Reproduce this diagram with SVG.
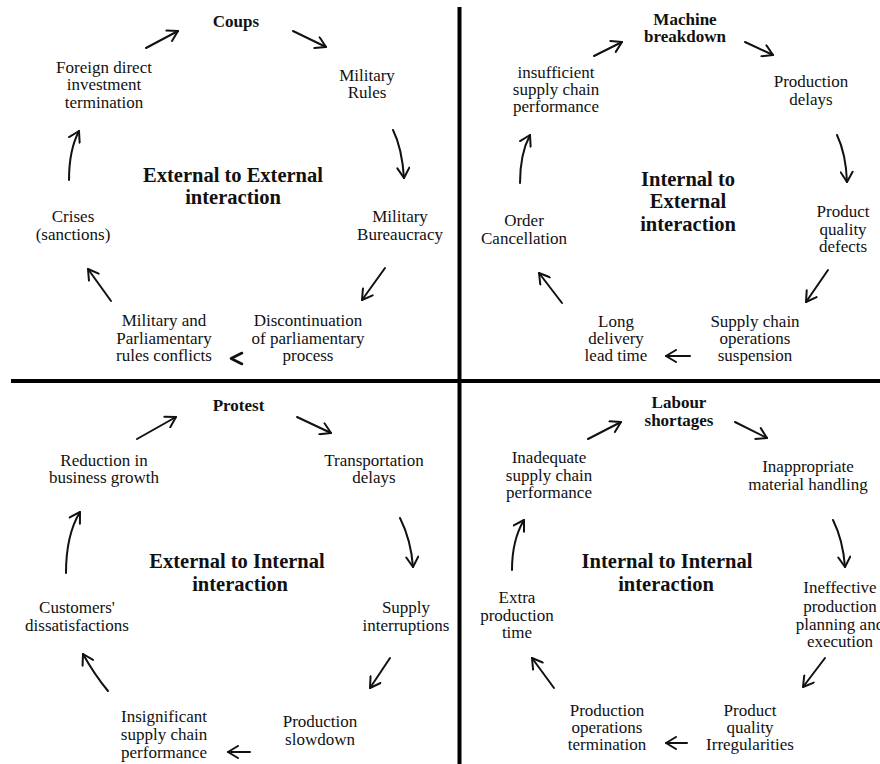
<svg xmlns="http://www.w3.org/2000/svg" width="880" height="764" viewBox="0 0 880 764">
<style>
text{font-family:'Liberation Serif','Times New Roman',Tinos,'Nimbus Roman','DejaVu Serif',serif;fill:#111;text-anchor:middle}
.n{font-size:17px}
.b{font-size:17px;font-weight:bold}
.t{font-size:20.5px;font-weight:bold}
.c path,.c polyline{fill:none;stroke:#111;stroke-width:2;stroke-linecap:round;stroke-linejoin:round}
.c .a{marker-end:url(#ah)}
.div{stroke:#000;stroke-width:4}
</style>
<defs>
<marker id="ah" markerUnits="userSpaceOnUse" viewBox="0 0 14 14" markerWidth="14" markerHeight="14" refX="12" refY="7" orient="auto">
<path d="M2,1 L12,7 L2,13" fill="none" stroke="#111" stroke-width="2" stroke-linecap="round" stroke-linejoin="round"/>
</marker>
</defs>
<rect width="880" height="764" fill="#fff"/>
<g id="dividers">
<line class="div" x1="459.5" y1="7" x2="459.5" y2="764"/>
<line class="div" x1="11" y1="381" x2="880" y2="381"/>
</g>
<g id="titles">
<text class="t" x="233" y="182">External to External</text>
<text class="t" x="233" y="204">interaction</text>
<text class="t" x="688" y="186">Internal to</text>
<text class="t" x="688" y="208">External</text>
<text class="t" x="688" y="231">interaction</text>
<text class="t" x="237" y="568">External to Internal</text>
<text class="t" x="240" y="591">interaction</text>
<text class="t" x="667" y="568">Internal to Internal</text>
<text class="t" x="666" y="591">interaction</text>
</g>
<g id="q1">
<g id="coups"><text class="b" x="236" y="27">Coups</text></g>
<g id="military-rules"><text class="n" x="367" y="81">Military</text><text class="n" x="367" y="98">Rules</text></g>
<g id="military-bureaucracy"><text class="n" x="400" y="222">Military</text><text class="n" x="400" y="240">Bureaucracy</text></g>
<g id="discontinuation"><text class="n" x="308" y="326">Discontinuation</text><text class="n" x="308" y="343.5">of parliamentary</text><text class="n" x="308" y="361">process</text></g>
<g id="military-parliamentary"><text class="n" x="164" y="326">Military and</text><text class="n" x="164" y="343.5">Parliamentary</text><text class="n" x="164" y="361">rules conflicts</text></g>
<g id="crises"><text class="n" x="73" y="222">Crises</text><text class="n" x="73" y="240">(sanctions)</text></g>
<g id="fdi"><text class="n" x="104" y="72.5">Foreign direct</text><text class="n" x="104" y="90">investment</text><text class="n" x="104" y="107.5">termination</text></g>
</g>
<g id="q2">
<g id="machine"><text class="b" x="685" y="25">Machine</text><text class="b" x="685" y="42">breakdown</text></g>
<g id="production-delays"><text class="n" x="811" y="87">Production</text><text class="n" x="811" y="105">delays</text></g>
<g id="quality-defects"><text class="n" x="843" y="217">Product</text><text class="n" x="843" y="234.5">quality</text><text class="n" x="843" y="252">defects</text></g>
<g id="sc-suspension"><text class="n" x="755" y="326.5">Supply chain</text><text class="n" x="755" y="344">operations</text><text class="n" x="755" y="361">suspension</text></g>
<g id="long-delivery"><text class="n" x="616" y="326.5">Long</text><text class="n" x="616" y="344">delivery</text><text class="n" x="616" y="361">lead time</text></g>
<g id="order-cancel"><text class="n" x="524" y="226">Order</text><text class="n" x="524" y="244">Cancellation</text></g>
<g id="insufficient"><text class="n" x="556" y="77.5">insufficient</text><text class="n" x="556" y="95">supply chain</text><text class="n" x="556" y="112">performance</text></g>
</g>
<g id="q3">
<g id="protest"><text class="b" x="238.5" y="411">Protest</text></g>
<g id="transportation"><text class="n" x="374" y="466">Transportation</text><text class="n" x="374" y="483">delays</text></g>
<g id="supply-int"><text class="n" x="406" y="613">Supply</text><text class="n" x="406" y="631">interruptions</text></g>
<g id="slowdown"><text class="n" x="320" y="727">Production</text><text class="n" x="320" y="744.5">slowdown</text></g>
<g id="insignificant"><text class="n" x="164" y="722">Insignificant</text><text class="n" x="164" y="740">supply chain</text><text class="n" x="164" y="757.5">performance</text></g>
<g id="customers"><text class="n" x="77" y="613">Customers'</text><text class="n" x="77" y="631">dissatisfactions</text></g>
<g id="reduction"><text class="n" x="104" y="466">Reduction in</text><text class="n" x="104" y="483">business growth</text></g>
</g>
<g id="q4">
<g id="labour"><text class="b" x="679" y="408">Labour</text><text class="b" x="679" y="426">shortages</text></g>
<g id="inappropriate"><text class="n" x="808" y="472">Inappropriate</text><text class="n" x="808" y="489.5">material handling</text></g>
<g id="ineffective"><text class="n" x="840" y="593">Ineffective</text><text class="n" x="840" y="611.5">production</text><text class="n" x="840" y="630">planning and</text><text class="n" x="840" y="647">execution</text></g>
<g id="irregularities"><text class="n" x="750" y="716">Product</text><text class="n" x="750" y="733">quality</text><text class="n" x="750" y="750">Irregularities</text></g>
<g id="termination"><text class="n" x="607" y="716">Production</text><text class="n" x="607" y="733">operations</text><text class="n" x="607" y="750">termination</text></g>
<g id="extra"><text class="n" x="517" y="603">Extra</text><text class="n" x="517" y="621">production</text><text class="n" x="517" y="638">time</text></g>
<g id="inadequate"><text class="n" x="549" y="463">Inadequate</text><text class="n" x="549" y="480.5">supply chain</text><text class="n" x="549" y="498">performance</text></g>
</g>
<g id="connectors" class="c">
<path class="a" d="M146,48 L178,31"/>
<path class="a" d="M293,31 L326,47"/>
<path class="a" d="M393,130 Q402,148 404,178"/>
<path class="a" d="M385,268 L362,300"/>
<polyline points="242,353 231,358.5 242,364" style="stroke-width:2.6"/>
<path class="a" d="M111,301 L88,269"/>
<path class="a" d="M69,180 Q69,150 79,131"/>
<path class="a" d="M594,56 L622,42"/>
<path class="a" d="M745,42 L773,55"/>
<path class="a" d="M837,135 Q846,154 847,182"/>
<path class="a" d="M828,270 L806,302"/>
<path class="a" d="M690,356 L666,356"/>
<path class="a" d="M562,303 L539,273"/>
<path class="a" d="M520,183 Q520,154 530,135"/>
<path class="a" d="M137,439 L176,417"/>
<path class="a" d="M297,417 L331,433"/>
<path class="a" d="M400,518 Q411,540 413,567"/>
<path class="a" d="M390,658 L370,688"/>
<path class="a" d="M250,752 L228,752"/>
<path class="a" d="M108,691 Q94,674 83,654"/>
<path class="a" d="M66,573 Q66,535 80,512"/>
<path class="a" d="M588,439 L621,422"/>
<path class="a" d="M735,422 L767,438"/>
<path class="a" d="M833,520 Q843,540 845,567"/>
<path class="a" d="M825,658 L803,687"/>
<path class="a" d="M687,743 L666,743"/>
<path class="a" d="M554,688 L532,658"/>
<path class="a" d="M512,570 Q512,540 524,520"/>
</g>
</svg>
